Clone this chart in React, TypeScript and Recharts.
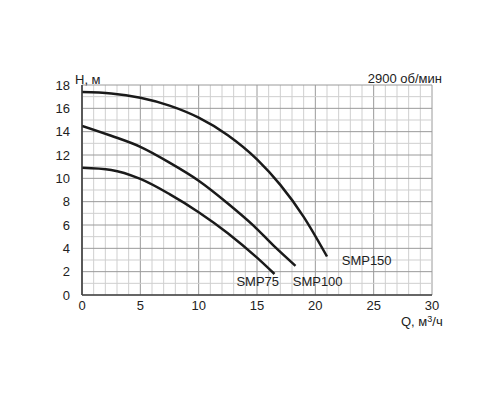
import React from "react";
import { LineChart, Line, XAxis, YAxis, ReferenceLine, ReferenceDot } from "recharts";

const qTicks = [0, 5, 10, 15, 20, 25, 30];
const hTicks = [0, 2, 4, 6, 8, 10, 12, 14, 16, 18];
const gridQ = Array.from({ length: 31 }, (_, i) => i);
const gridH = Array.from({ length: 19 }, (_, i) => i);

const smp150Q = [0, 2.5, 5, 7.5, 10, 12.5, 15, 17, 19, 21];
const smp150H = [17.4, 17.28, 16.9, 16.23, 15.2, 13.7, 11.63, 9.44, 6.7, 3.3];
const smp100Q = [0, 2.5, 5, 7.5, 10, 12.5, 14.7, 16.4, 18.3];
const smp100H = [14.5, 13.65, 12.7, 11.35, 9.8, 7.85, 5.95, 4.25, 2.5];
const smp75Q = [0, 2.5, 5, 7.5, 10, 12.5, 15, 16.5];
const smp75H = [10.9, 10.72, 9.95, 8.65, 7.1, 5.3, 3.2, 1.8];

const seriesLabels = [
  { name: "SMP150", q: 24.4, h: 3.0 },
  { name: "SMP75", q: 15.06, h: 1.14 },
  { name: "SMP100", q: 20.2, h: 1.14 },
];

const build = (qs: number[], hs: number[]) => qs.map((q, i) => ({ q, h: hs[i] }));
const smp150 = build(smp150Q, smp150H);
const smp100 = build(smp100Q, smp100H);
const smp75 = build(smp75Q, smp75H);

const FONT = "'Liberation Sans', Arial, sans-serif";
const TXT = "#222";

export default function App() {
  return (
    <div style={{ position: "absolute", left: 0, top: 0, width: 500, height: 400, background: "#fff", fontFamily: FONT }}>
      <LineChart width={500} height={400} margin={{ top: 85, right: 68, bottom: 0, left: 0 }}>
        <XAxis
          type="number"
          dataKey="q"
          domain={[0, 30]}
          ticks={qTicks}
          allowDataOverflow
          height={105}
          axisLine={{ stroke: "#444", strokeWidth: 1.2 }}
          tickLine={false}
          tick={{ fill: TXT, fontSize: 13, fontFamily: FONT }}
          tickMargin={0}
        />
        <YAxis
          type="number"
          domain={[0, 18]}
          ticks={hTicks}
          allowDataOverflow
          width={82}
          axisLine={{ stroke: "#444", strokeWidth: 1.2 }}
          tickLine={false}
          tick={{ fill: TXT, fontSize: 13, fontFamily: FONT }}
          tickMargin={6}
        />
        {gridQ.map((q) => (
          <ReferenceLine key={"vq" + q} x={q} stroke={q % 5 === 0 ? "#9a9a9a" : "#cfcfcf"} strokeWidth={1} />
        ))}
        {gridH.map((h) => (
          <ReferenceLine key={"hh" + h} y={h} stroke={h % 2 === 0 ? "#9a9a9a" : "#cfcfcf"} strokeWidth={1} />
        ))}
        <ReferenceLine x={0} stroke="#444" strokeWidth={1.2} />
        <ReferenceLine y={0} stroke="#444" strokeWidth={1.2} />
        <Line data={smp150} dataKey="h" type="monotone" stroke="#1a1a1a" strokeWidth={2.5} dot={false} isAnimationActive={false} />
        <Line data={smp100} dataKey="h" type="monotone" stroke="#1a1a1a" strokeWidth={2.5} dot={false} isAnimationActive={false} />
        <Line data={smp75} dataKey="h" type="monotone" stroke="#1a1a1a" strokeWidth={2.5} dot={false} isAnimationActive={false} />
        {seriesLabels.map((s) => (
          <ReferenceDot
            key={s.name}
            x={s.q}
            y={s.h}
            r={0}
            fill="none"
            stroke="none"
            ifOverflow="visible"
            label={{ value: s.name, position: "center", fill: TXT, fontSize: 13, fontFamily: FONT }}
          />
        ))}
      </LineChart>
      <div style={{ position: "absolute", left: 75, top: 72, fontSize: 13, color: TXT, lineHeight: "15px" }}>H, м</div>
      <div style={{ position: "absolute", right: 58, top: 71, fontSize: 13, color: TXT, lineHeight: "15px" }}>2900 об/мин</div>
      <div style={{ position: "absolute", left: 401, top: 315, fontSize: 13, color: TXT, lineHeight: "13px" }}>
        Q, м<sup style={{ fontSize: 9, verticalAlign: "4px", lineHeight: 0 }}>3</sup>/ч
      </div>
    </div>
  );
}
